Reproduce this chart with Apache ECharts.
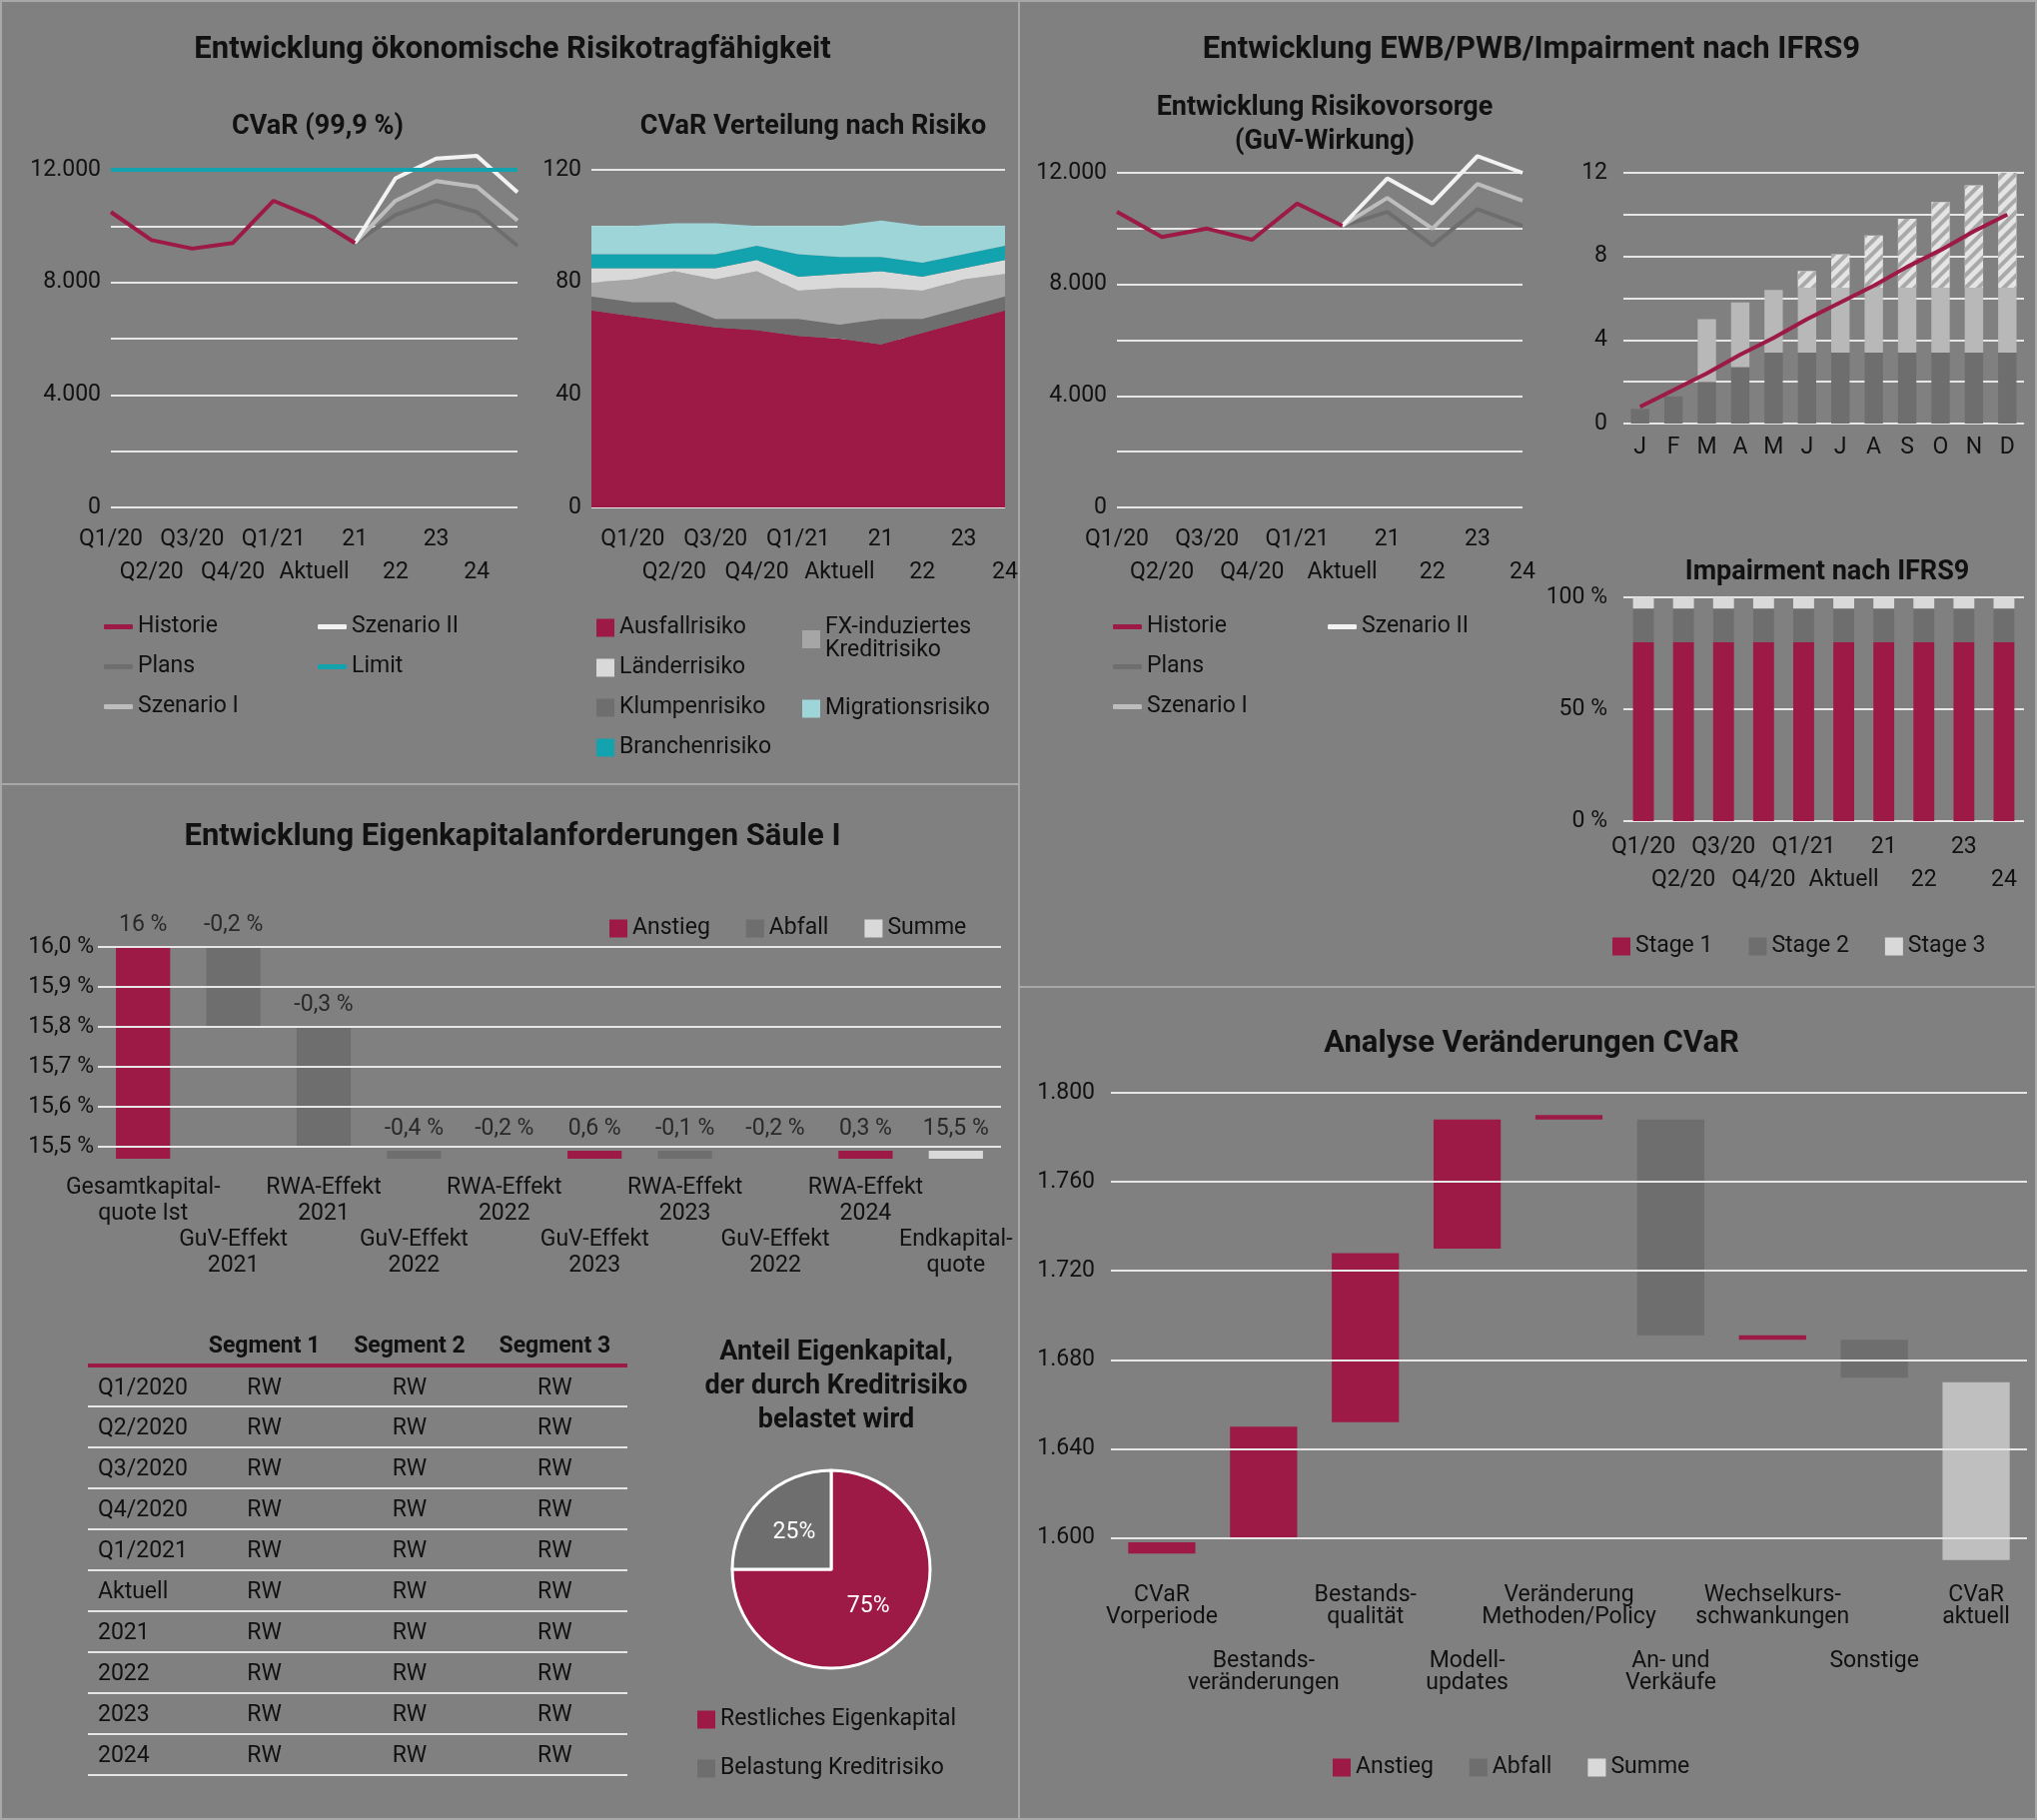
<!DOCTYPE html>
<html><head><meta charset="utf-8">
<script src="https://cdn.jsdelivr.net/npm/echarts@6/dist/echarts.min.js"></script>
<style>
html,body{margin:0;padding:0;background:#808080;}
#main{width:2039px;height:1822px;position:absolute;left:0;top:0;}
#tbl{position:absolute;border-collapse:collapse;font-family:'Liberation Sans Narrow',Roboto,sans-serif;color:#111;}
#tbl td,#tbl th{padding:0;}
</style></head>
<body>
<div id="main"></div>
<table id="tbl"></table>
<script>
const K = 2039 / 1568;
const p = v => Math.round(v * K);
const FONT = "'Liberation Sans Narrow', Roboto, sans-serif";
const TXT = '#111111';
const CRIMSON = '#9c1a45', DARK = '#6e6e6e', MID = '#a6a6a6', LIGHT = '#d9d9d9', TEAL = '#12a3ae', LTEAL = '#9ed5d9', GRIDC = '#e6e6e6';

// CVaR (99,9 %)
const cvarCats = ['Q1/20', 'Q2/20', 'Q3/20', 'Q4/20', 'Q1/21', 'Aktuell', '21', '22', '23', '24', ''];
const cvarHist = [10500, 9500, 9200, 9400, 10900, 10300, 9400, null, null, null, null];
const cvarPlans = [null, null, null, null, null, null, 9400, 10400, 10900, 10500, 9300];
const cvarSz1 = [null, null, null, null, null, null, 9400, 10900, 11600, 11400, 10200];
const cvarSz2 = [null, null, null, null, null, null, 9400, 11700, 12400, 12500, 11200];
const cvarLimit = [12000, 12000, 12000, 12000, 12000, 12000, 12000, 12000, 12000, 12000, 12000];

// CVaR Verteilung nach Risiko
const riskCats = ['', 'Q1/20', 'Q2/20', 'Q3/20', 'Q4/20', 'Q1/21', 'Aktuell', '21', '22', '23', '24'];
const ausfall = [70, 68, 66, 64, 63, 61, 60, 58, 62, 66, 70];
const klumpen = [5, 5, 7, 3, 4, 6, 5, 9, 5, 5, 5];
const fx = [5, 8, 11, 14, 17, 10, 13, 11, 10, 10, 8];
const laender = [5, 4, 1, 4, 4, 5, 5, 6, 5, 4, 5];
const branchen = [5, 5, 5, 5, 5, 8, 6, 5, 5, 5, 5];
const migration = [10, 10, 11, 11, 7, 10, 11, 13, 13, 10, 7];

// Entwicklung Risikovorsorge
const rvCats = ['Q1/20', 'Q2/20', 'Q3/20', 'Q4/20', 'Q1/21', 'Aktuell', '21', '22', '23', '24'];
const rvHist = [10600, 9700, 10000, 9600, 10900, 10100, null, null, null, null];
const rvPlans = [null, null, null, null, null, 10100, 10600, 9400, 10700, 10100];
const rvSz1 = [null, null, null, null, null, 10100, 11100, 10000, 11600, 11000];
const rvSz2 = [null, null, null, null, null, 10100, 11800, 10900, 12600, 12000];

// Monatliche Entwicklung
const months = ['J', 'F', 'M', 'A', 'M', 'J', 'J', 'A', 'S', 'O', 'N', 'D'];
const mDark = [0.7, 1.3, 2.0, 2.7, 3.4, 3.4, 3.4, 3.4, 3.4, 3.4, 3.4, 3.4];
const mLight = [0, 0, 3.0, 3.1, 3.0, 3.1, 3.1, 3.1, 3.1, 3.1, 3.1, 3.1];
const mHatch = [0, 0, 0, 0, 0, 0.8, 1.6, 2.5, 3.3, 4.1, 4.9, 5.8];
const mLine = [0.8, 1.6, 2.4, 3.3, 4.1, 5.0, 5.8, 6.6, 7.5, 8.3, 9.2, 10.0];

// Impairment nach IFRS9
const impCats = ['Q1/20', 'Q2/20', 'Q3/20', 'Q4/20', 'Q1/21', 'Aktuell', '21', '22', '23', '24'];
const stage1 = [80, 80, 80, 80, 80, 80, 80, 80, 80, 80];
const stage2 = [15, 15, 15, 15, 15, 15, 15, 15, 15, 15];
const stage3 = [5, 5, 5, 5, 5, 5, 5, 5, 5, 5];

// Eigenkapitalanforderungen Säule I
const ekCats = ['Gesamtkapital-\nquote Ist', 'GuV-Effekt\n2021', 'RWA-Effekt\n2021', 'GuV-Effekt\n2022', 'RWA-Effekt\n2022', 'GuV-Effekt\n2023', 'RWA-Effekt\n2023', 'GuV-Effekt\n2022', 'RWA-Effekt\n2024', 'Endkapital-\nquote'];
const ekBase = [15.47, 15.8, 15.5, 15.47, 15.47, 15.47, 15.47, 15.47, 15.47, 15.47];
const ekUp = [0.53, '-', '-', '-', '-', 0.02, '-', '-', 0.02, '-'];
const ekDown = ['-', 0.2, 0.3, 0.02, '-', '-', 0.02, '-', '-', '-'];
const ekSum = ['-', '-', '-', '-', '-', '-', '-', '-', '-', 0.02];
const ekLabels = ['16 %', '-0,2 %', '-0,3 %', '-0,4 %', '-0,2 %', '0,6 %', '-0,1 %', '-0,2 %', '0,3 %', '15,5 %'];
const ekTicks = [15.5, 15.6, 15.7, 15.8, 15.9, 16.0];

// Analyse Veränderungen CVaR
const anCats = ['CVaR\nVorperiode', 'Bestands-\nveränderungen', 'Bestands-\nqualität', 'Modell-\nupdates', 'Veränderung\nMethoden/Policy', 'An- und\nVerkäufe', 'Wechselkurs-\nschwankungen', 'Sonstige', 'CVaR\naktuell'];
const anBase = [1593, 1600, 1652, 1730, 1788, 1691, 1689, 1672, 1590];
const anUp = [5, 50, 76, 58, 2, '-', 2, '-', '-'];
const anDown = ['-', '-', '-', '-', '-', 97, '-', 17, '-'];
const anSum = ['-', '-', '-', '-', '-', '-', '-', '-', 80];
const anTicks = [1600, 1640, 1680, 1720, 1760, 1800];

// Pie
const pieData = [{name: 'Restliches Eigenkapital', value: 75}, {name: 'Belastung Kreditrisiko', value: 25}];

// Tabelle
const tblHead = ['', 'Segment 1', 'Segment 2', 'Segment 3'];
const tblRows = ['Q1/2020', 'Q2/2020', 'Q3/2020', 'Q4/2020', 'Q1/2021', 'Aktuell', '2021', '2022', '2023', '2024'];

const fs = p(17.5);
const axisLbl = {color: TXT, fontSize: fs, fontFamily: FONT};
const split = {lineStyle: {color: GRIDC, width: p(1.6)}};
const twoRow = (v, i) => (i % 2 ? '\n' + v : v);
const thou = v => v.toLocaleString('de-DE');

function grid(l, t, w, h) {
    return {left: p(l), top: p(t), width: p(w), height: p(h), containLabel: false};
}

const grids = [
    grid(85, 131, 313, 260),    // 0 CVaR
    grid(455, 131, 318, 260),   // 1 area
    grid(860, 133, 312, 258),   // 2 RV
    grid(1250, 133, 308, 193),  // 3 months
    grid(1250, 460, 308, 172),  // 4 impairment
    grid(75, 729, 695, 163),    // 5 Säule I
    grid(855, 841, 705, 368)    // 6 Analyse
];

const xAxis = [
    {gridIndex: 0, type: 'category', data: cvarCats, boundaryGap: false, axisLine: {show: false}, axisTick: {show: false},
        axisLabel: {...axisLbl, interval: 0, formatter: twoRow, lineHeight: p(25), margin: p(12)}},
    {gridIndex: 1, type: 'category', data: riskCats, boundaryGap: false, axisLine: {show: false}, axisTick: {show: false},
        axisLabel: {...axisLbl, interval: 0, formatter: (v, i) => (i % 2 ? v : '\n' + v), lineHeight: p(25), margin: p(12)}},
    {gridIndex: 2, type: 'category', data: rvCats, boundaryGap: false, axisLine: {show: false}, axisTick: {show: false},
        axisLabel: {...axisLbl, interval: 0, formatter: twoRow, lineHeight: p(25), margin: p(12)}},
    {gridIndex: 3, type: 'category', data: months, axisLine: {show: false}, axisTick: {show: false},
        axisLabel: {...axisLbl, interval: 0, margin: p(10)}},
    {gridIndex: 4, type: 'category', data: impCats, axisLine: {show: false}, axisTick: {show: false},
        axisLabel: {...axisLbl, interval: 0, formatter: twoRow, lineHeight: p(25), margin: p(8)}},
    {gridIndex: 5, type: 'category', data: ekCats, axisLine: {show: false}, axisTick: {show: false},
        axisLabel: {...axisLbl, interval: 0, lineHeight: p(20), margin: p(12),
            formatter: (v, i) => (i % 2 ? '\n\n' + v : v)}},
    {gridIndex: 6, type: 'category', data: anCats, axisLine: {show: false}, axisTick: {show: false},
        axisLabel: {...axisLbl, interval: 0, lineHeight: p(17), margin: p(10),
            formatter: (v, i) => (i % 2 ? '\n\n\n' + v : v)}}
];

const yAxis = [
    {gridIndex: 0, min: 0, max: 12000, interval: 2000, splitLine: split,
        axisLabel: {...axisLbl, formatter: v => (v % 4000 ? '' : thou(v)), margin: p(8)}},
    {gridIndex: 1, min: 0, max: 120, interval: 20, splitLine: split,
        axisLabel: {...axisLbl, formatter: v => (v % 40 ? '' : v), margin: p(8)}},
    {gridIndex: 2, min: 0, max: 12000, interval: 2000, splitLine: split,
        axisLabel: {...axisLbl, formatter: v => (v % 4000 ? '' : thou(v)), margin: p(8)}},
    {gridIndex: 3, min: 0, max: 12, interval: 2, splitLine: split,
        axisLabel: {...axisLbl, formatter: v => (v % 4 ? '' : v), margin: p(12)}},
    {gridIndex: 4, min: 0, max: 100, interval: 50, splitLine: split,
        axisLabel: {...axisLbl, formatter: v => v + ' %', margin: p(12)}},
    {gridIndex: 5, min: 15.47, max: 16.0, splitLine: {show: false},
        axisLabel: {...axisLbl, customValues: ekTicks, formatter: v => v.toFixed(1).replace('.', ',') + ' %', margin: p(3)},
        axisTick: {show: false}},
    {gridIndex: 6, min: 1585, max: 1800, splitLine: {show: false},
        axisLabel: {...axisLbl, customValues: anTicks, formatter: thou, margin: p(12)},
        axisTick: {show: false}}
];

const line = (name, data, color, xi, z) => ({
    name, type: 'line', data, xAxisIndex: xi, yAxisIndex: xi, showSymbol: false, z: z || 3, clip: false,
    lineStyle: {color, width: p(3)}, itemStyle: {color}, connectNulls: false
});
const area = (name, data, color) => ({
    name, type: 'line', data, xAxisIndex: 1, yAxisIndex: 1, stack: 'risk', showSymbol: false,
    lineStyle: {width: 0}, areaStyle: {color, opacity: 1}, itemStyle: {color}
});
const bar = (name, data, color, xi, stack, extra) => Object.assign({
    name, type: 'bar', data, xAxisIndex: xi, yAxisIndex: xi, stack, itemStyle: {color}
}, extra || {});
const gridMarks = (vals, color) => ({
    silent: true, symbol: 'none', label: {show: false},
    lineStyle: {color: color || GRIDC, width: p(1.6), type: 'solid'},
    data: vals.map(v => ({yAxis: v}))
});

// label anchor: top of each stack, at least the height of the thin bars
const ekTop = ekBase.map((b, i) => Math.max(15.49,
    b + [ekUp[i], ekDown[i], ekSum[i]].reduce((s, v) => s + (v === '-' ? 0 : v), 0)));

const series = [
    // CVaR
    line('Plans', cvarPlans, DARK, 0),
    line('Szenario I', cvarSz1, '#bdbdbd', 0),
    line('Szenario II', cvarSz2, '#f2f2f2', 0),
    line('Limit', cvarLimit, TEAL, 0, 4),
    line('Historie', cvarHist, CRIMSON, 0, 5),
    // area
    area('Ausfallrisiko', ausfall, CRIMSON),
    area('Klumpenrisiko', klumpen, DARK),
    area('FX-induziertes\nKreditrisiko', fx, MID),
    area('Länderrisiko', laender, LIGHT),
    area('Branchenrisiko', branchen, TEAL),
    area('Migrationsrisiko', migration, LTEAL),
    // RV
    line('Plans', rvPlans, DARK, 2),
    line('Szenario I', rvSz1, '#bdbdbd', 2),
    line('Szenario II', rvSz2, '#f2f2f2', 2),
    line('Historie', rvHist, CRIMSON, 2, 5),
    // months
    bar('m1', mDark, DARK, 3, 'm', {barWidth: '55%'}),
    bar('m2', mLight, '#b8b8b8', 3, 'm'),
    bar('m3', mHatch, '#e4e4e4', 3, 'm', {itemStyle: {color: '#e4e4e4',
        decal: {symbol: 'rect', color: '#a9a9a9', dashArrayX: [1, 0], dashArrayY: [p(3), p(4)], rotation: -Math.PI / 4}}}),
    {type: 'line', name: 'trend', data: mLine, xAxisIndex: 3, yAxisIndex: 3, showSymbol: false, z: 5,
        lineStyle: {color: CRIMSON, width: p(3)}},
    // impairment
    bar('Stage 1', stage1, CRIMSON, 4, 'imp', {barWidth: '52%'}),
    bar('Stage 2', stage2, DARK, 4, 'imp'),
    bar('Stage 3', stage3, LIGHT, 4, 'imp'),
    // Säule I
    bar('ekBase', ekBase, 'rgba(0,0,0,0)', 5, 'ek', {barWidth: '60%', markLine: gridMarks(ekTicks), silent: true}),
    bar('Anstieg', ekUp, CRIMSON, 5, 'ek'),
    bar('Abfall', ekDown, DARK, 5, 'ek'),
    bar('Summe', ekSum, LIGHT, 5, 'ek'),
    {type: 'scatter', name: 'ekLbl', data: ekTop, xAxisIndex: 5, yAxisIndex: 5, symbolSize: 0, silent: true, z: 10,
        label: {show: true, position: 'top', distance: p(8), color: TXT, fontSize: fs, fontFamily: FONT,
            backgroundColor: '#808080', padding: [0, 2],
            formatter: d => ekLabels[d.dataIndex]}},
    // Analyse
    bar('anBase', anBase, 'rgba(0,0,0,0)', 6, 'an', {barWidth: '66%', markLine: gridMarks(anTicks), silent: true}),
    bar('Anstieg', anUp, CRIMSON, 6, 'an'),
    bar('Abfall', anDown, DARK, 6, 'an'),
    bar('Summe', anSum, '#bfbfbf', 6, 'an'),
    // pie
    {type: 'pie', center: [p(640), p(1208)], radius: [0, p(76)], startAngle: 90, clockwise: true,
        data: pieData, color: [CRIMSON, DARK],
        itemStyle: {borderColor: '#ffffff', borderWidth: p(2)},
        label: {show: true, position: 'inside', color: '#fff', fontSize: fs, fontFamily: FONT,
            formatter: d => d.value + '%'},
        labelLine: {show: false}}
];

const legTxt = {color: TXT, fontSize: fs, fontFamily: FONT};
const lineLeg = (l, t, data, gap) => ({left: p(l), top: p(t), orient: 'vertical', data, icon: 'roundRect',
    itemWidth: p(22), itemHeight: p(4), itemGap: p(gap || 13), textStyle: legTxt, selectedMode: false});
const boxLeg = (l, t, data, orient, gap) => ({left: p(l), top: p(t), orient, data, icon: 'rect',
    itemWidth: p(14), itemHeight: p(14), itemGap: p(gap), textStyle: legTxt, selectedMode: false,
    itemStyle: {borderWidth: 0}});

const legend = [
    lineLeg(76, 470, ['Historie', 'Plans', 'Szenario I']),
    lineLeg(241, 470, ['Szenario II', 'Limit']),
    boxLeg(455, 471, ['Ausfallrisiko', 'Länderrisiko', 'Klumpenrisiko', 'Branchenrisiko'], 'vertical', 13),
    boxLeg(614, 471, ['FX-induziertes\nKreditrisiko'], 'vertical', 13),
    boxLeg(614, 533, ['Migrationsrisiko'], 'vertical', 13),
    lineLeg(853, 470, ['Historie', 'Plans', 'Szenario I']),
    lineLeg(1018, 470, ['Szenario II']),
    boxLeg(1237, 716, ['Stage 1', 'Stage 2', 'Stage 3'], 'horizontal', 28),
    boxLeg(465, 702, ['Anstieg', 'Abfall', 'Summe'], 'horizontal', 28),
    boxLeg(1022, 1348, ['Anstieg', 'Abfall', 'Summe'], 'horizontal', 28),
    boxLeg(533, 1311, ['Restliches Eigenkapital', 'Belastung Kreditrisiko'], 'vertical', 20)
];

const ttl = (text, cx, t, size) => ({text, left: p(cx), top: p(t), textAlign: 'center',
    textStyle: {color: TXT, fontSize: p(size || 21), fontWeight: 'bold', fontFamily: FONT, lineHeight: p((size || 21) * 1.25)}});

const title = [
    ttl('Entwicklung ökonomische Risikotragfähigkeit', 391, 20, 24),
    ttl('CVaR (99,9 %)', 241, 81, 21),
    ttl('CVaR Verteilung nach Risiko', 622, 81, 21),
    ttl('Entwicklung EWB/PWB/Impairment nach IFRS9', 1175, 20, 24),
    ttl('Entwicklung Risikovorsorge\n(GuV-Wirkung)', 1016, 66, 21),
    ttl('Impairment nach IFRS9', 1403, 424, 21),
    ttl('Entwicklung Eigenkapitalanforderungen Säule I', 391, 626, 24),
    ttl('Analyse Veränderungen CVaR', 1175, 785, 24),
    ttl('Anteil Eigenkapital,\nder durch Kreditrisiko\nbelastet wird', 640, 1024, 21)
];

const divider = '#a8a8a8';
const graphic = [
    {type: 'line', shape: {x1: p(784), y1: 0, x2: p(784), y2: p(1401)}, style: {stroke: divider, lineWidth: 2}},
    {type: 'line', shape: {x1: 0, y1: p(604), x2: p(784), y2: p(604)}, style: {stroke: divider, lineWidth: 2}},
    {type: 'line', shape: {x1: p(784), y1: p(760), x2: 2039, y2: p(760)}, style: {stroke: divider, lineWidth: 2}},
    {type: 'rect', shape: {x: 1, y: 1, width: 2037, height: 1820}, style: {fill: 'none', stroke: divider, lineWidth: 2}}
];

const chart = echarts.init(document.getElementById('main'));
chart.setOption({
    backgroundColor: '#808080',
    animation: false,
    textStyle: {fontFamily: FONT},
    title, legend, grid: grids, xAxis, yAxis, series, graphic
});

// Tabelle
const tbl = document.getElementById('tbl');
tbl.style.left = p(68) + 'px';
tbl.style.top = p(1021) + 'px';
tbl.style.width = p(415) + 'px';
tbl.style.fontSize = fs + 'px';
let html = '<tr style="height:' + p(30) + 'px;border-bottom:' + p(3) + 'px solid ' + CRIMSON + '">';
tblHead.forEach((h, i) => {
    html += '<th style="text-align:' + (i ? 'center' : 'left') + ';font-weight:bold;width:' + p(i ? 112 : 80) + 'px">' + h + '</th>';
});
html += '</tr>';
tblRows.forEach(r => {
    html += '<tr style="height:' + p(31.2) + 'px;border-bottom:' + p(1.5) + 'px solid #e6e6e6">';
    html += '<td style="padding-left:' + p(8) + 'px">' + r + '</td>';
    for (let i = 0; i < 3; i++) html += '<td style="text-align:center">RW</td>';
    html += '</tr>';
});
tbl.innerHTML = html;
</script>
</body></html>
